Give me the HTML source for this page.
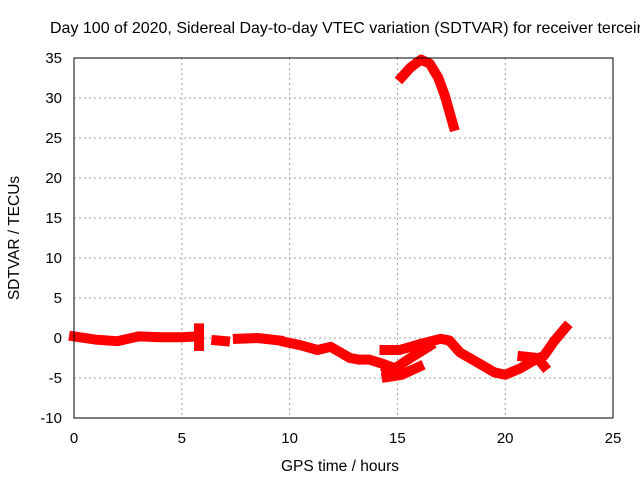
<!DOCTYPE html>
<html><head><meta charset="utf-8"><style>
body{margin:0;background:#fff}
svg{display:block;font-family:"Liberation Sans",sans-serif}
</style></head><body>
<svg id="chart" width="640" height="480" xmlns="http://www.w3.org/2000/svg">
<rect width="640" height="480" fill="#fff"/>
<text x="50" y="33" font-size="16" fill="#000">Day 100 of 2020, Sidereal Day-to-day VTEC variation (SDTVAR) for receiver terceira</text>
<g id="grid"></g>
<g id="series"></g>
<rect x="74" y="58" width="539" height="360" fill="none" stroke="#000" stroke-width="1"/>
<g id="ticks"></g>
<text transform="translate(19,238) rotate(-90)" text-anchor="middle" font-size="15.5">SDTVAR / TECUs</text>
<text x="340" y="471" text-anchor="middle" font-size="15.5">GPS time / hours</text>
</svg>
<script>
const xTicks=[0,5,10,15,20,25];
const yTicks=[-10,-5,0,5,10,15,20,25,30,35];
const segA=[[0,0.2],[1,-0.2],[2,-0.4],[3,0.2],[4,0.1],[5,0.1],[5.7,0.2]];
const segSpike=[[5.8,1.2],[5.8,-1]];
const segB=[[6.6,-0.3],[7.0,-0.4]];
const segC=[[7.6,-0.1],[8.5,0],[9.5,-0.3]];
const segD=[[9.8,-0.5],[10.5,-0.9],[11.3,-1.5],[11.9,-1.1],[12.8,-2.5],[13.2,-2.7],[13.7,-2.7],[14.4,-3.3],[14.9,-3.8]];
const segE=[[14.5,-4.9],[15.2,-4.6],[16,-3.6]];
const segF=[[14.5,-4.2],[15.0,-3.6],[15.6,-2.5],[16.5,-1]];
const segG=[[14.4,-1.5],[15.1,-1.5],[16,-0.8],[17,-0.1],[17.4,-0.3],[17.9,-1.8],[18.8,-3.2],[19.5,-4.3],[20,-4.6],[20.7,-3.8],[21.2,-3],[21.8,-2.2],[22.3,-0.3],[22.8,1.3]];
const segH=[[20.8,-2.3],[21.5,-2.5],[21.8,-3.5]];
const segTop=[[15.2,32.6],[15.6,33.8],[16.1,34.8],[16.5,34.3],[16.9,32.5],[17.2,30.3],[17.6,26.5]];
const segments=[segA,segSpike,segB,segC,segD,segE,segF,segG,segH,segTop];
const NS="http://www.w3.org/2000/svg";
const X=h=>74+h*539/25, Y=v=>338-v*8;
const grid=document.getElementById('grid'),ticks=document.getElementById('ticks'),ser=document.getElementById('series');
xTicks.forEach(t=>{
 if(t>0&&t<25){const l=document.createElementNS(NS,'line');
 
 
 l.setAttribute('x1',X(t));l.setAttribute('x2',X(t));l.setAttribute('y1',58);l.setAttribute('y2',418);
 l.setAttribute('stroke','#a0a0a0');l.setAttribute('stroke-dasharray','2,3');grid.appendChild(l);}
 const tx=document.createElementNS(NS,'text');
 
 
 tx.setAttribute('x',X(t));tx.setAttribute('y',443);tx.setAttribute('text-anchor','middle');tx.setAttribute('font-size','15');
 tx.textContent=t;ticks.appendChild(tx);
});
yTicks.forEach(t=>{
 if(t>-10&&t<35){const l=document.createElementNS(NS,'line');
 
 
 l.setAttribute('x1',74);l.setAttribute('x2',613);l.setAttribute('y1',Y(t));l.setAttribute('y2',Y(t));
 l.setAttribute('stroke','#a0a0a0');l.setAttribute('stroke-dasharray','2,3');grid.appendChild(l);}
 const tx=document.createElementNS(NS,'text');
 
 
 tx.setAttribute('x',62);tx.setAttribute('y',Y(t)+5);tx.setAttribute('text-anchor','end');tx.setAttribute('font-size','15');
 tx.textContent=t;ticks.appendChild(tx);
});
segments.forEach(s=>{
 const p=document.createElementNS(NS,'polyline');
 
 
 p.setAttribute('points',s.map(d=>X(d[0])+','+Y(d[1])).join(' '));
 p.setAttribute('fill','none');p.setAttribute('stroke','#ff0000');p.setAttribute('stroke-width','10');
 p.setAttribute('stroke-linejoin','round');p.setAttribute('stroke-linecap','square');
 ser.appendChild(p);
});
</script>
</body></html>
